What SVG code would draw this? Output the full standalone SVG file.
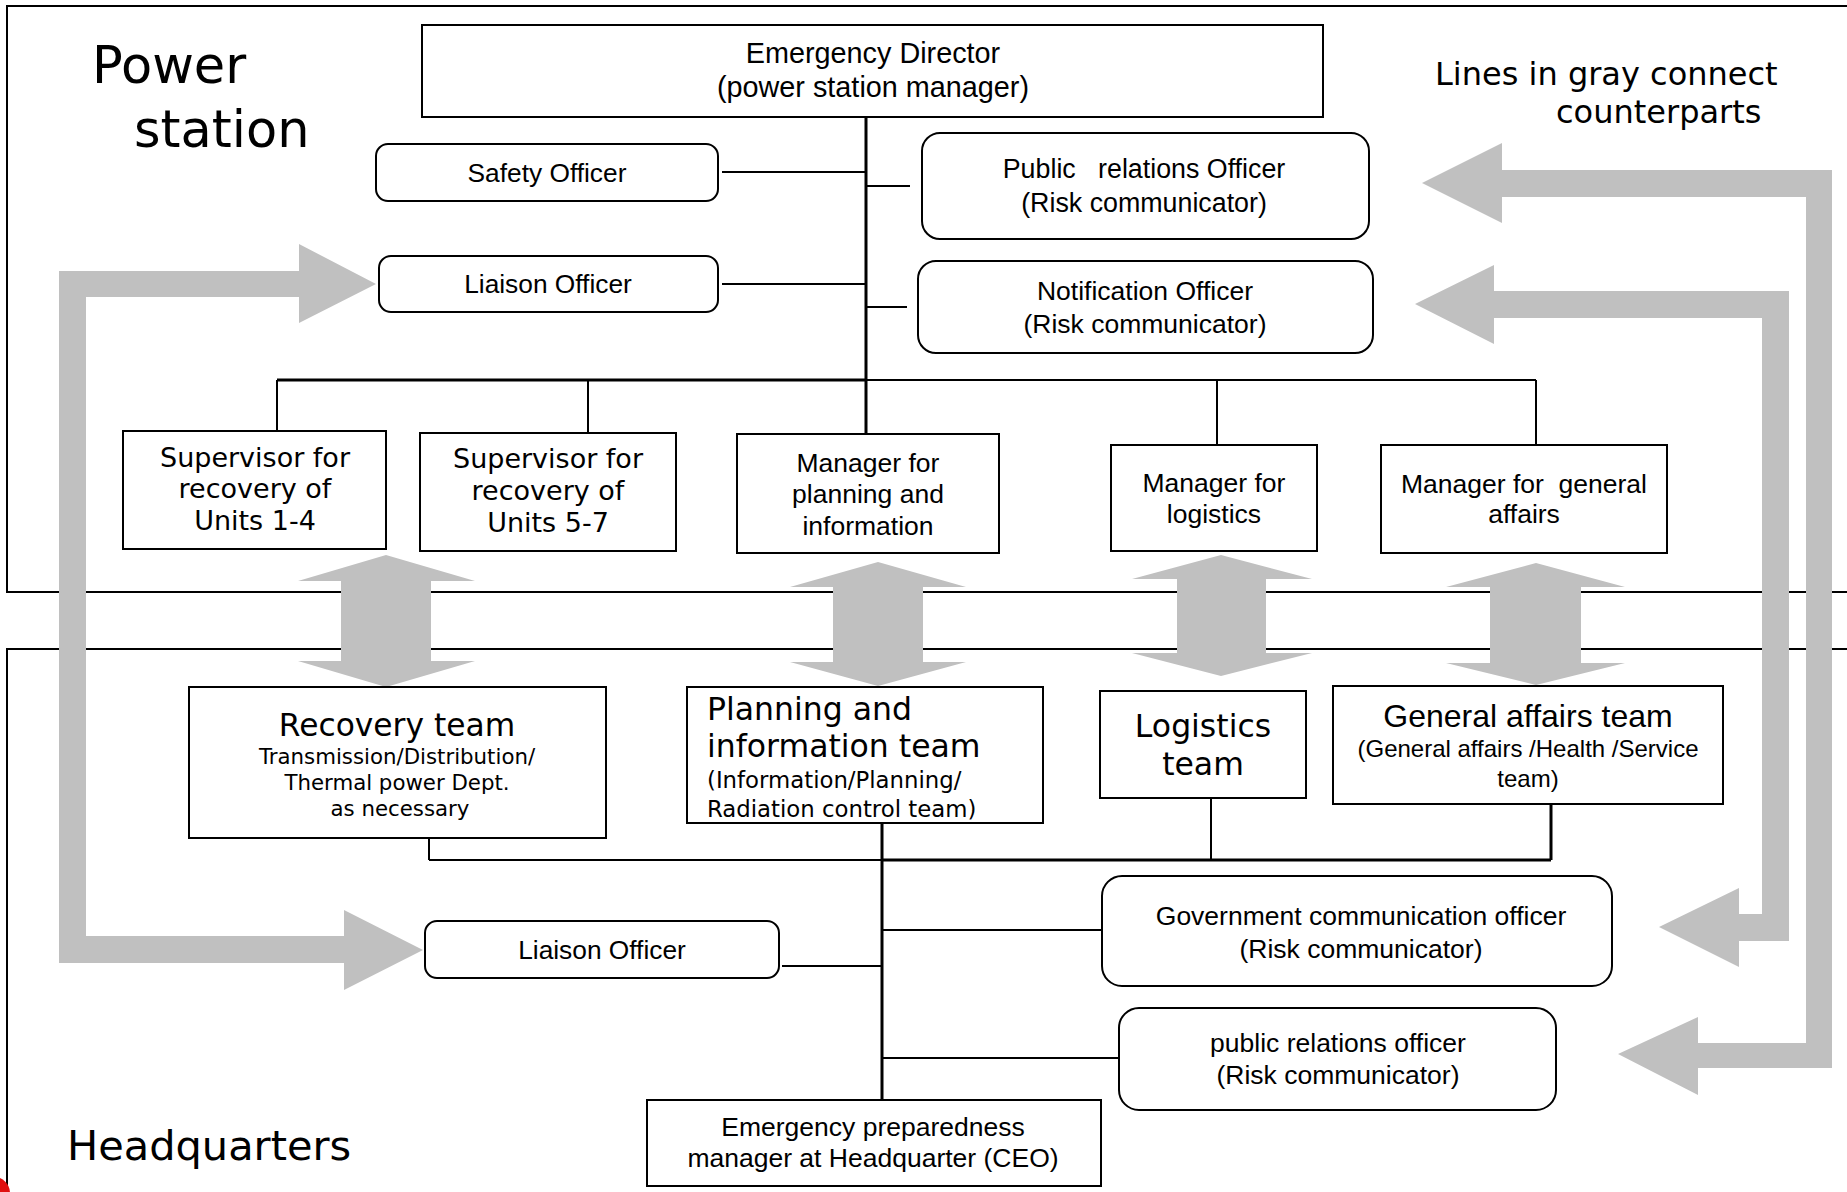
<svg xmlns="http://www.w3.org/2000/svg" width="1847" height="1192" viewBox="0 0 1847 1192">
<style>
.frame{fill:none;stroke:#000;stroke-width:2}
.box{fill:#fff;stroke:#000;stroke-width:2}
.ln{fill:none;stroke:#000;stroke-width:2}
.tk{fill:none;stroke:#000;stroke-width:3}
.gray{fill:#c0c0c0}
.a{font-family:"Liberation Sans",Arial,sans-serif;fill:#000;text-anchor:middle}
.d{font-family:"DejaVu Sans",Verdana,sans-serif;fill:#000;text-anchor:middle}
.pre{white-space:pre}
</style>
<rect width="1847" height="1192" fill="#fff"/>
<g id="frames">
<path class="frame" d="M1847,6 H7 V592 H1847"/>
<path class="frame" d="M1847,649 H7 V1192"/>
</g>
<g id="labels">
<text class="d" x="92" y="83" font-size="51" style="text-anchor:start">Power</text>
<text class="d" x="134" y="147" font-size="51" style="text-anchor:start">station</text>
<text class="d" x="67" y="1160" font-size="41.5" style="text-anchor:start">Headquarters</text>
<text class="d" x="1435" y="85" font-size="32" style="text-anchor:start">Lines in gray connect</text>
<text class="d" x="1556" y="123" font-size="32" style="text-anchor:start">counterparts</text>
</g>
<g id="connectors">
<line class="tk" x1="866" y1="117" x2="866" y2="434"/>
<line class="ln" x1="722" y1="172" x2="866" y2="172"/>
<line class="ln" x1="722" y1="284" x2="866" y2="284"/>
<line class="ln" x1="866" y1="186" x2="910" y2="186"/>
<line class="ln" x1="866" y1="307" x2="907" y2="307"/>
<line class="tk" x1="277" y1="380" x2="866" y2="380"/>
<line class="ln" x1="866" y1="380" x2="1536" y2="380"/>
<line class="ln" x1="277" y1="380" x2="277" y2="431"/>
<line class="ln" x1="588" y1="380" x2="588" y2="433"/>
<line class="ln" x1="1217" y1="380" x2="1217" y2="445"/>
<line class="ln" x1="1536" y1="380" x2="1536" y2="445"/>
<line class="ln" x1="429" y1="838" x2="429" y2="860"/>
<line class="ln" x1="429" y1="860" x2="882" y2="860"/>
<line class="tk" x1="882" y1="860" x2="1551" y2="860"/>
<line class="ln" x1="1211" y1="798" x2="1211" y2="860"/>
<line class="tk" x1="1551" y1="804" x2="1551" y2="860"/>
<line class="tk" x1="882" y1="823" x2="882" y2="1100"/>
<line class="ln" x1="782" y1="966" x2="882" y2="966"/>
<line class="ln" x1="882" y1="930" x2="1102" y2="930"/>
<line class="ln" x1="882" y1="1058" x2="1119" y2="1058"/>
</g>
<g id="gray-arrows">
<polygon class="gray" points="386,555 475,581 431,581 431,661 475,661 386,687 298,661 341,661 341,581 298,581"/>
<polygon class="gray" points="878,562 966,587 923,587 923,662 966,662 878,686 790,662 833,662 833,587 790,587"/>
<polygon class="gray" points="1221,555 1312,579 1266,579 1266,653 1312,653 1221,676 1132,653 1177,653 1177,579 1132,579"/>
<polygon class="gray" points="1536,563 1625,587 1581,587 1581,663 1625,663 1536,685 1446,663 1490,663 1490,587 1446,587"/>
<path class="gray" d="M1422,183 L1502,143 L1502,170 L1832,170 L1832,1068 L1698,1068 L1698,1095 L1618,1054 L1698,1017 L1698,1043 L1806,1043 L1806,197 L1502,197 L1502,223 Z"/>
<path class="gray" d="M1415,304 L1494,265 L1494,291 L1789,291 L1789,941 L1739,941 L1739,967 L1659,927 L1739,888 L1739,914 L1762,914 L1762,318 L1494,318 L1494,344 Z"/>
<path class="gray" d="M376,284 L299,244 L299,271 L59,271 L59,963 L344,963 L344,990 L423,950 L344,910 L344,936 L86,936 L86,297 L299,297 L299,323 Z"/>
</g>
<g id="emergency-director">
<rect class="box" x="422" y="25" width="901" height="92"/>
<text class="a" x="873" y="63" font-size="28.8">Emergency Director</text>
<text class="a" x="873" y="97" font-size="28.8">(power station manager)</text>
</g>
<g id="safety-officer">
<rect class="box" x="376" y="144" width="342" height="57" rx="12"/>
<text class="a" x="547" y="182" font-size="26.3">Safety Officer</text>
</g>
<g id="liaison-officer-ps">
<rect class="box" x="379" y="256" width="339" height="56" rx="12"/>
<text class="a" x="548" y="293" font-size="26.3">Liaison Officer</text>
</g>
<g id="public-relations-officer-ps">
<rect class="box" x="922" y="133" width="447" height="106" rx="18"/>
<text class="a pre" x="1144" y="178" font-size="26.8">Public   relations Officer</text>
<text class="a" x="1144" y="212" font-size="26.8">(Risk communicator)</text>
</g>
<g id="notification-officer">
<rect class="box" x="918" y="261" width="455" height="92" rx="18"/>
<text class="a" x="1145" y="300" font-size="26.5">Notification Officer</text>
<text class="a" x="1145" y="333" font-size="26.5">(Risk communicator)</text>
</g>
<g id="supervisor-1-4">
<rect class="box" x="123" y="431" width="263" height="118"/>
<text class="d" x="255" y="467" font-size="27">Supervisor for</text>
<text class="d" x="255" y="498" font-size="27">recovery of</text>
<text class="d" x="255" y="530" font-size="27">Units 1-4</text>
</g>
<g id="supervisor-5-7">
<rect class="box" x="420" y="433" width="256" height="118"/>
<text class="d" x="548" y="468" font-size="27">Supervisor for</text>
<text class="d" x="548" y="500" font-size="27">recovery of</text>
<text class="d" x="548" y="532" font-size="27">Units 5-7</text>
</g>
<g id="manager-planning">
<rect class="box" x="737" y="434" width="262" height="119"/>
<text class="a" x="868" y="472" font-size="26.5">Manager for</text>
<text class="a" x="868" y="503" font-size="26.5">planning and</text>
<text class="a" x="868" y="535" font-size="26.5">information</text>
</g>
<g id="manager-logistics">
<rect class="box" x="1111" y="445" width="206" height="106"/>
<text class="a" x="1214" y="492" font-size="26.5">Manager for</text>
<text class="a" x="1214" y="523" font-size="26.5">logistics</text>
</g>
<g id="manager-general-affairs">
<rect class="box" x="1381" y="445" width="286" height="108"/>
<text class="a pre" x="1524" y="493" font-size="26.5">Manager for  general</text>
<text class="a" x="1524" y="523" font-size="26.5">affairs</text>
</g>
<g id="recovery-team">
<rect class="box" x="189" y="687" width="417" height="151"/>
<text class="d" x="397" y="736" font-size="31.3">Recovery team</text>
<text class="d" x="397" y="764" font-size="21.3">Transmission/Distribution/</text>
<text class="d" x="397" y="790" font-size="21.3">Thermal power Dept.</text>
<text class="d" x="400" y="816" font-size="21.3">as necessary</text>
</g>
<g id="planning-team">
<rect class="box" x="687" y="687" width="356" height="136"/>
<text class="d" x="707" y="720" font-size="31.5" style="text-anchor:start">Planning and</text>
<text class="d" x="707" y="757" font-size="31.5" style="text-anchor:start">information team</text>
<text class="d" x="707" y="788" font-size="22.8" style="text-anchor:start">(Information/Planning/</text>
<text class="d" x="707" y="817" font-size="22.8" style="text-anchor:start">Radiation control team)</text>
</g>
<g id="logistics-team">
<rect class="box" x="1100" y="691" width="206" height="107"/>
<text class="d" x="1203" y="737" font-size="31.5">Logistics</text>
<text class="d" x="1203" y="775" font-size="31.5">team</text>
</g>
<g id="general-affairs-team">
<rect class="box" x="1333" y="686" width="390" height="118"/>
<text class="a" x="1528" y="727" font-size="32">General affairs team</text>
<text class="a" x="1528" y="757" font-size="24">(General affairs /Health /Service</text>
<text class="a" x="1528" y="787" font-size="24">team)</text>
</g>
<g id="liaison-officer-hq">
<rect class="box" x="425" y="921" width="354" height="57" rx="12"/>
<text class="a" x="602" y="959" font-size="26.3">Liaison Officer</text>
</g>
<g id="government-communication-officer">
<rect class="box" x="1102" y="876" width="510" height="110" rx="20"/>
<text class="a" x="1361" y="925" font-size="26.5">Government communication officer</text>
<text class="a" x="1361" y="958" font-size="26.5">(Risk communicator)</text>
</g>
<g id="public-relations-officer-hq">
<rect class="box" x="1119" y="1008" width="437" height="102" rx="20"/>
<text class="a" x="1338" y="1052" font-size="26.5">public relations officer</text>
<text class="a" x="1338" y="1084" font-size="26.5">(Risk communicator)</text>
</g>
<g id="ceo">
<rect class="box" x="647" y="1100" width="454" height="86"/>
<text class="a" x="873" y="1136" font-size="26.5">Emergency preparedness</text>
<text class="a" x="873" y="1167" font-size="26.5">manager at Headquarter (CEO)</text>
</g>
<circle cx="-6" cy="1193" r="16" fill="#e01010"/>
</svg>
